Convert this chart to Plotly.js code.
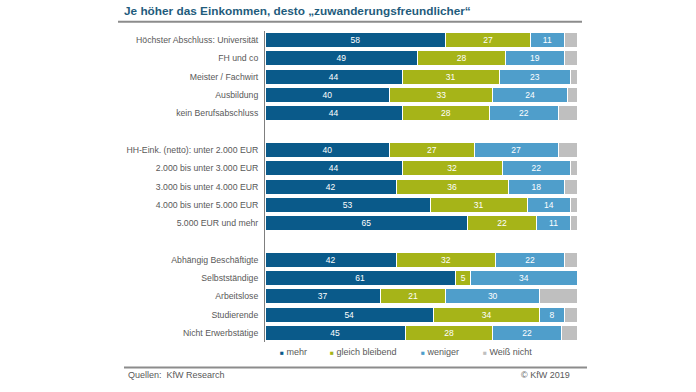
<!DOCTYPE html>
<html>
<head>
<meta charset="utf-8">
<script src="https://cdn.plot.ly/plotly-3.0.1.min.js"></script>
<style>html,body{margin:0;padding:0;background:#fff;}#chart{width:696px;height:392px;}</style>
</head>
<body>
<div id="chart"></div>
<script>
var categories = ["Höchster Abschluss: Universität","FH und co","Meister / Fachwirt","Ausbildung","kein Berufsabschluss"," ","HH-Eink. (netto): unter 2.000 EUR","2.000 bis unter 3.000 EUR","3.000 bis unter 4.000 EUR","4.000 bis unter 5.000 EUR","5.000 EUR und mehr","  ","Abhängig Beschäftigte","Selbstständige","Arbeitslose","Studierende","Nicht Erwerbstätige"];
var mehr       = [58,49,44,40,44,null,40,44,42,53,65,null,42,61,37,54,45];
var gleich     = [27,28,31,33,28,null,27,32,36,31,22,null,32,5,21,34,28];
var weniger    = [11,19,23,24,22,null,27,22,18,14,11,null,22,34,30,8,22];
var weissNicht = [4,4,2,3,6,null,6,2,4,2,2,null,4,0,12,4,5];
var seriesNames = ["mehr","gleich bleibend","weniger","Weiß nicht"];
var seriesColors = ["#0a5a8a","#a6b418","#4f9ecb","#bfbfbf"];
var titleText = "Je höher das Einkommen, desto „zuwanderungsfreundlicher“";
var sourceText = "Quellen:  KfW Research";
var copyrightText = "© KfW 2019";

var font = "Liberation Sans, Arial, sans-serif";
var values = [mehr, gleich, weniger, weissNicht];
var traces = values.map(function(v, i){
  return {
    type: "bar", orientation: "h",
    y: categories, x: v, name: seriesNames[i],
    marker: {color: seriesColors[i], line: {color: "#ffffff", width: 1}},
    text: i < 3 ? v.map(function(d){return d === null ? "" : String(d);}) : null,
    textposition: i < 3 ? "inside" : "none",
    insidetextanchor: "middle", textangle: 0, constraintext: "none",
    textfont: {color: "#ffffff", size: 8.5, family: font},
    hoverinfo: "x+name", showlegend: false
  };
});

// plot area geometry
var L = 265, R = 577, T = 31.35, B = 342.5;
function px(x){ return (x - L) / (R - L); }
function py(y){ return (B - y) / (B - T); }

var legendX = [281, 331, 422, 484];
var annotations = seriesNames.map(function(n, i){
  return {
    xref: "paper", yref: "paper", x: px(legendX[i] - 3), y: py(353),
    xanchor: "left", yanchor: "middle", showarrow: false,
    text: '<span style="color:' + seriesColors[i] + ';font-size:6.5px">■</span> ' + n,
    font: {family: font, size: 9, color: "#595959"}
  };
});
annotations.push({
  xref: "paper", yref: "paper", x: px(126), y: py(376), xanchor: "left", yanchor: "middle",
  showarrow: false, text: sourceText, font: {family: font, size: 9, color: "#595959"}
});
annotations.push({
  xref: "paper", yref: "paper", x: px(572), y: py(376), xanchor: "right", yanchor: "middle",
  showarrow: false, text: copyrightText, font: {family: font, size: 9, color: "#595959"}
});

var layout = {
  width: 696, height: 392,
  margin: {l: L, r: 696 - R, t: T, b: 392 - B, pad: 0},
  paper_bgcolor: "#ffffff", plot_bgcolor: "#ffffff",
  barmode: "stack", bargap: 0.18,
  title: {
    text: "<b>" + titleText + "</b>",
    xref: "container", yref: "container", x: 124/696, y: 1 - 11/392,
    xanchor: "left", yanchor: "middle",
    font: {family: font, size: 11.8, color: "#1f5c7c"}
  },
  xaxis: {range: [0, 100], showticklabels: false, showgrid: false, zeroline: false, showline: false, fixedrange: true},
  yaxis: {
    type: "category", categoryorder: "array", categoryarray: categories,
    autorange: "reversed", showgrid: false, zeroline: false,
    showline: true, linecolor: "#7f7f7f", linewidth: 1,
    ticks: "", ticklabelstandoff: 4,
    tickfont: {family: font, size: 8.7, color: "#595959"}
  },
  shapes: [
    {type: "line", xref: "paper", yref: "paper", x0: px(118), x1: px(582), y0: py(22), y1: py(22), line: {color: "#8c8c8c", width: 2}},
    {type: "line", xref: "paper", yref: "paper", x0: px(124), x1: px(587), y0: py(368), y1: py(368), line: {color: "#8c8c8c", width: 2}}
  ],
  annotations: annotations,
  showlegend: false
};
Plotly.newPlot("chart", traces, layout, {displayModeBar: false, staticPlot: true});
</script>
</body>
</html>
